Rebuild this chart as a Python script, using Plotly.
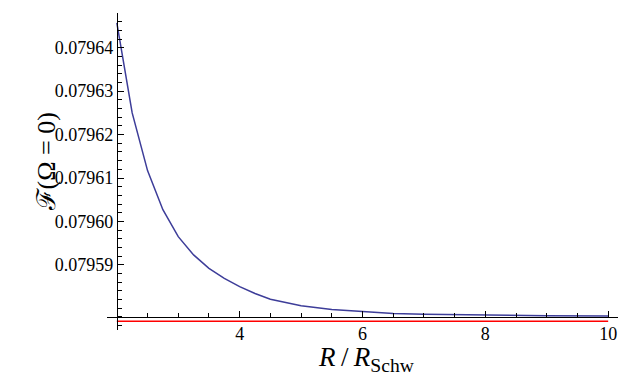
import plotly.graph_objects as go

# Data
r_vals = [2.0, 2.25, 2.5, 2.75, 3.0, 3.25, 3.5, 3.75, 4.0, 4.25, 4.5, 4.75, 5.0,
          5.5, 6.0, 6.5, 7.0, 7.5, 8.0, 9.0, 10.0]
f_vals = [0.0796457, 0.0796250, 0.0796117, 0.0796027, 0.0795965, 0.0795923,
          0.0795892, 0.0795869, 0.0795850, 0.0795834, 0.0795821, 0.0795813,
          0.0795806, 0.0795797, 0.0795792, 0.0795788, 0.0795786, 0.0795785,
          0.0795784, 0.0795783, 0.0795782]
limit_x = [2.0, 10.0]
limit_y = [0.079577, 0.079577]

x_ticks = [4, 6, 8, 10]
x_tick_labels = ["4", "6", "8", "10"]
x_minor = [2.5, 3, 3.5, 4.5, 5, 5.5, 6.5, 7, 7.5, 8.5, 9, 9.5]
y_ticks = [0.07959, 0.07960, 0.07961, 0.07962, 0.07963, 0.07964]
y_tick_labels = ["0.07959", "0.07960", "0.07961", "0.07962", "0.07963", "0.07964"]
y_minor = [0.079576, 0.079578, 0.079580, 0.079582, 0.079584, 0.079586, 0.079588,
           0.079592, 0.079594, 0.079596, 0.079598,
           0.079602, 0.079604, 0.079606, 0.079608,
           0.079612, 0.079614, 0.079616, 0.079618,
           0.079622, 0.079624, 0.079626, 0.079628,
           0.079632, 0.079634, 0.079636, 0.079638,
           0.079642, 0.079644, 0.079646]

x_range = [1.84, 10.16]
y_range = [0.079575, 0.079648]
x_origin = 2.0
y_origin = 0.079578

SERIF = "'Liberation Serif', 'Times New Roman', 'DejaVu Serif', serif"

fig = go.Figure()
fig.add_trace(go.Scatter(x=r_vals, y=f_vals, mode="lines",
                         line=dict(color="#3d3d99", width=1.5), showlegend=False))
fig.add_trace(go.Scatter(x=limit_x, y=limit_y, mode="lines",
                         line=dict(color="#ff0000", width=1.6), showlegend=False))

fig.update_layout(
    template="none",
    width=632, height=375,
    margin=dict(l=107, r=14, t=13, b=45, autoexpand=False),
    paper_bgcolor="white", plot_bgcolor="white",
    font=dict(family=SERIF, size=18, color="black"),
    xaxis=dict(
        range=x_range, showgrid=False, zeroline=False, automargin=False,
        showline=True, linecolor="black", linewidth=1,
        anchor="free",
        position=(y_origin - y_range[0]) / (y_range[1] - y_range[0]),
        tickmode="array", tickvals=x_ticks, ticktext=x_tick_labels,
        ticks="inside", ticklen=6, tickcolor="black", tickwidth=1,
        tickfont=dict(family=SERIF, size=18, color="black"),
        minor=dict(tickmode="array", tickvals=x_minor, ticks="inside",
                   ticklen=4, tickcolor="black", tickwidth=1, showgrid=False),
    ),
    yaxis=dict(
        range=y_range, showgrid=False, zeroline=False, automargin=False,
        showline=True, linecolor="black", linewidth=1,
        anchor="free",
        position=(x_origin - x_range[0]) / (x_range[1] - x_range[0]),
        tickmode="array", tickvals=y_ticks, ticktext=y_tick_labels,
        ticks="inside", ticklen=6, tickcolor="black", tickwidth=1,
        tickfont=dict(family=SERIF, size=18, color="black"),
        minor=dict(tickmode="array", tickvals=y_minor, ticks="inside",
                   ticklen=4, tickcolor="black", tickwidth=1, showgrid=False),
    ),
    annotations=[
        dict(text="<i>R</i>\u2009/\u2009<i>R</i><span style='font-size:28px'><sub>Schw</sub></span>",
             x=0.5, y=0.0, xref="paper", yref="paper", yanchor="top",
             xshift=4, yshift=-10, showarrow=False,
             font=dict(family=SERIF, size=27, color="black")),
        dict(text="ℱ(Ω = 0)", x=0, y=0.53, xref="paper", yref="paper",
             xshift=-77, textangle=-90, showarrow=False,
             font=dict(family=SERIF, size=26, color="black")),
    ],
)

fig.write_html(
    "out.html",
    config={"displayModeBar": False},
    post_script="document.body.style.margin='0';document.body.style.padding='0';"
                "document.body.style.overflow='hidden';",
)
